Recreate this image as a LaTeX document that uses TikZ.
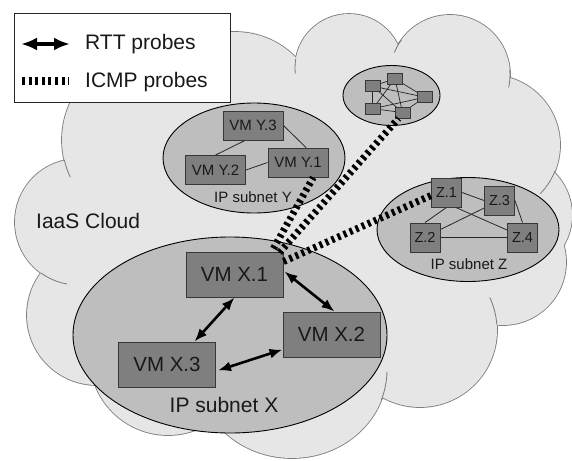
\documentclass[tikz,border=0pt]{standalone}
\usepackage{fontspec}
\setmainfont{Liberation Sans}
\usetikzlibrary{arrows.meta,calc,shapes.geometric}
\definecolor{cloudfill}{RGB}{230,230,231}
\definecolor{cloudline}{RGB}{125,125,125}
\definecolor{subnetfill}{RGB}{190,190,191}
\definecolor{vmfill}{RGB}{127,127,127}
\definecolor{vmline}{RGB}{55,55,55}
\definecolor{txt}{RGB}{25,25,25}
\pgfdeclarelayer{back}
\pgfdeclarelayer{mid}
\pgfdeclarelayer{front}
\pgfsetlayers{back,mid,main,front}
\tikzset{
  subnet/.style={draw=black, line width=0.9pt, fill=subnetfill},
  vmbig/.style={draw=vmline, fill=vmfill, line width=0.9pt, minimum width=97pt, minimum height=45pt, inner sep=0pt, text=txt, font=\fontsize{20.5}{24}\selectfont},
  vmmid/.style={vmbig, minimum width=60pt, minimum height=29pt, font=\fontsize{15}{18}\selectfont},
  vmsmall/.style={vmbig, minimum width=30pt, minimum height=29pt, font=\fontsize{14.5}{17}\selectfont},
  vmtiny/.style={draw=vmline, fill=vmfill, line width=0.7pt, minimum width=15pt, minimum height=11pt, inner sep=0pt},
  thinlink/.style={draw=black!85, line width=0.8pt},
  cloudtail/.style={draw=cloudline, line width=0.85pt},
  rtt/.style={line width=2.6pt, {Latex[length=13pt,width=10pt]}-{Latex[length=13pt,width=10pt]}},
  rttlegend/.style={line width=3.2pt, {Latex[length=16pt,width=13pt]}-{Latex[length=16pt,width=13pt]}},
  icmp/.style={line width=7pt, dash pattern=on 3pt off 3.6pt},
  biglbl/.style={inner sep=0pt, text=txt, font=\fontsize{21}{25}\selectfont},
  smalllbl/.style={inner sep=0pt, text=txt, font=\fontsize{15}{18}\selectfont},
}
\begin{document}
\begin{tikzpicture}[x=1pt,y=-1pt]
\useasboundingbox (0,0) rectangle (572,460);
\begin{pgfonlayer}{back}
  % cloud: outline of the union of lobes
  \foreach \cx/\cy/\rx/\ry in {235/117/85/85, 150/140/88/88, 349/68/54/54, 450/75/60/60,
      490/145/70/70, 512/215/60/60, 503/262/63/63, 420/330/77/77, 292/370/95/88,
      168/357/78/78, 97/315/70/70, 78/222/63/63}
    \draw[cloudline, line width=1.7pt] (\cx,\cy) ellipse[x radius=\rx, y radius=\ry];
  \foreach \cx/\cy/\rx/\ry in {235/117/85/85, 150/140/88/88, 349/68/54/54, 450/75/60/60,
      490/145/70/70, 512/215/60/60, 503/262/63/63, 420/330/77/77, 292/370/95/88,
      168/357/78/78, 97/315/70/70, 78/222/63/63}
    \fill[cloudfill] (\cx,\cy) ellipse[x radius=\rx, y radius=\ry];
  \fill[cloudfill] (235,117) -- (349,68) -- (450,75) -- (490,145) -- (512,215) -- (503,262)
      -- (420,330) -- (292,370) -- (168,357) -- (97,315) -- (78,222) -- (150,140) -- cycle;
  % short inner ends of the lobe outlines
  \draw[cloudtail] (150,140) ++(167:88) arc[start angle=167, end angle=155, radius=88];
  \draw[cloudtail] (78,222) ++(126:63) arc[start angle=126, end angle=100, radius=63];
  \draw[cloudtail] (292,370) ++(20:95 and 88) arc[start angle=20, end angle=1, x radius=95, y radius=88];
  \draw[cloudtail] (420,330) ++(-4:77) arc[start angle=-4, end angle=-25, radius=77];
  \draw[cloudtail] (490,145) ++(22:70) arc[start angle=22, end angle=44, radius=70];
  \draw[cloudtail] (450,75) ++(-5:60) arc[start angle=-5, end angle=12, radius=60];
  \draw[cloudtail] (349,68) ++(190:54) arc[start angle=190, end angle=174, radius=54];
  \draw[cloudtail] (450,75) ++(216:60) arc[start angle=216, end angle=202, radius=60];
  % legend
  \node[draw=black!85, fill=white, line width=0.9pt, minimum width=216pt, minimum height=89pt, inner sep=0pt] (legend) at (122,57.5) {};
  \node[biglbl, anchor=base west] (rttlbl) at (85,49) {RTT probes};
  \node[biglbl, anchor=base west] (icmplbl) at (85,87) {ICMP probes};
  \node[biglbl, anchor=base west] (iaas) at (36,228) {IaaS Cloud};
  % subnets
  \node[subnet, ellipse, minimum width=314pt, minimum height=196pt, inner sep=0pt] (snx) at (230,335) {};
  \node[subnet, ellipse, minimum width=182pt, minimum height=110pt, inner sep=0pt] (sny) at (254,158) {};
  \node[subnet, ellipse, minimum width=182pt, minimum height=104pt, inner sep=0pt] (snz) at (468,229.5) {};
  \node[subnet, ellipse, minimum width=97pt, minimum height=60pt, inner sep=0pt] (snn) at (391.5,95.5) {};
  \node[biglbl, anchor=base] (lblx) at (224,412) {IP subnet X};
  \node[smalllbl, anchor=base] (lbly) at (253,202) {IP subnet Y};
  \node[smalllbl, anchor=base] (lblz) at (469,269) {IP subnet Z};
\end{pgfonlayer}

% VM boxes
\node[vmbig] (x1) at (234.5,274.5) {VM X.1};
\node[vmbig] (x2) at (331.5,334.5) {VM X.2};
\node[vmbig] (x3) at (167,364.5) {VM X.3};
\node[vmmid] (y3) at (253,125.5) {VM Y.3};
\node[vmmid] (y2) at (215.5,170) {VM Y.2};
\node[vmmid] (y1) at (298,162.5) {VM Y.1};
\node[vmsmall] (z1) at (446.5,192.5) {Z.1};
\node[vmsmall] (z3) at (499.5,200.5) {Z.3};
\node[vmsmall] (z2) at (425,237.5) {Z.2};
\node[vmsmall] (z4) at (522.5,237.5) {Z.4};
\node[vmtiny] (na) at (372.8,86.2) {};
\node[vmtiny] (nb) at (395,78.7) {};
\node[vmtiny] (nc) at (425,97.2) {};
\node[vmtiny] (nd) at (372.8,108.7) {};
\node[vmtiny] (ne) at (402.5,112.5) {};

\begin{pgfonlayer}{mid}
  \draw[thinlink] ($(y3.south)+(-8,0)$) -- (y2.north);
  \draw[thinlink] (y3.east) -- ($(y1.north)+(8,0)$);
  \draw[thinlink] (y2.east) -- (y1.west);
  \draw[thinlink] (z1.east) -- (z3.west);
  \draw[thinlink] (z1.south) -- (z2.north);
  \draw[thinlink] ($(z1.south)!0.6!(z1.south east)$) -- ($(z4.west)!0.5!(z4.north west)$);
  \draw[thinlink] (z3.center) -- ($(z2.east)+(0,-8)$);
  \draw[thinlink] (z3.east) -- (z4.north);
  \draw[thinlink] (z2.east) -- (z4.west);
  \foreach \p/\q in {na/nb,na/nc,na/nd,na/ne,nb/nc,nb/nd,nb/ne,nc/nd,nc/ne,nd/ne}
    \draw[thinlink, line width=0.7pt] (\p.center) -- (\q.center);
\end{pgfonlayer}

\begin{pgfonlayer}{front}
  % RTT probes
  \draw[rtt] ($(x1.east)+(1,-3)$) -- ($(x2.north)+(3,0)$);
  \draw[rtt] (x1.south) -- ($(x3.north)!0.56!(x3.north east)$);
  \draw[rtt] ($(x3.east)+(2,6)$) -- ($(x2.west)+(0,15)$);
  % ICMP probes
  \draw[icmp] ($(x1.north east)+(-10,-3)$) -- ($(y1.south)!0.5!(y1.south east)$);
  \draw[icmp] ($(x1.north east)+(-4,1)$) -- ($(ne.south)+(-4,0)$);
  \draw[icmp] ($(x1.north east)+(0,10)$) -- ($(z1.west)+(0,3)$);
  % legend symbols
  \coordinate (la1) at (21,44);
  \coordinate (la2) at (70,44);
  \draw[rttlegend] (la1) -- (la2);
  \coordinate (ld1) at (22,81);
  \coordinate (ld2) at (69,81);
  \draw[icmp, line width=8pt] (ld1) -- (ld2);
\end{pgfonlayer}
\end{tikzpicture}
\end{document}
